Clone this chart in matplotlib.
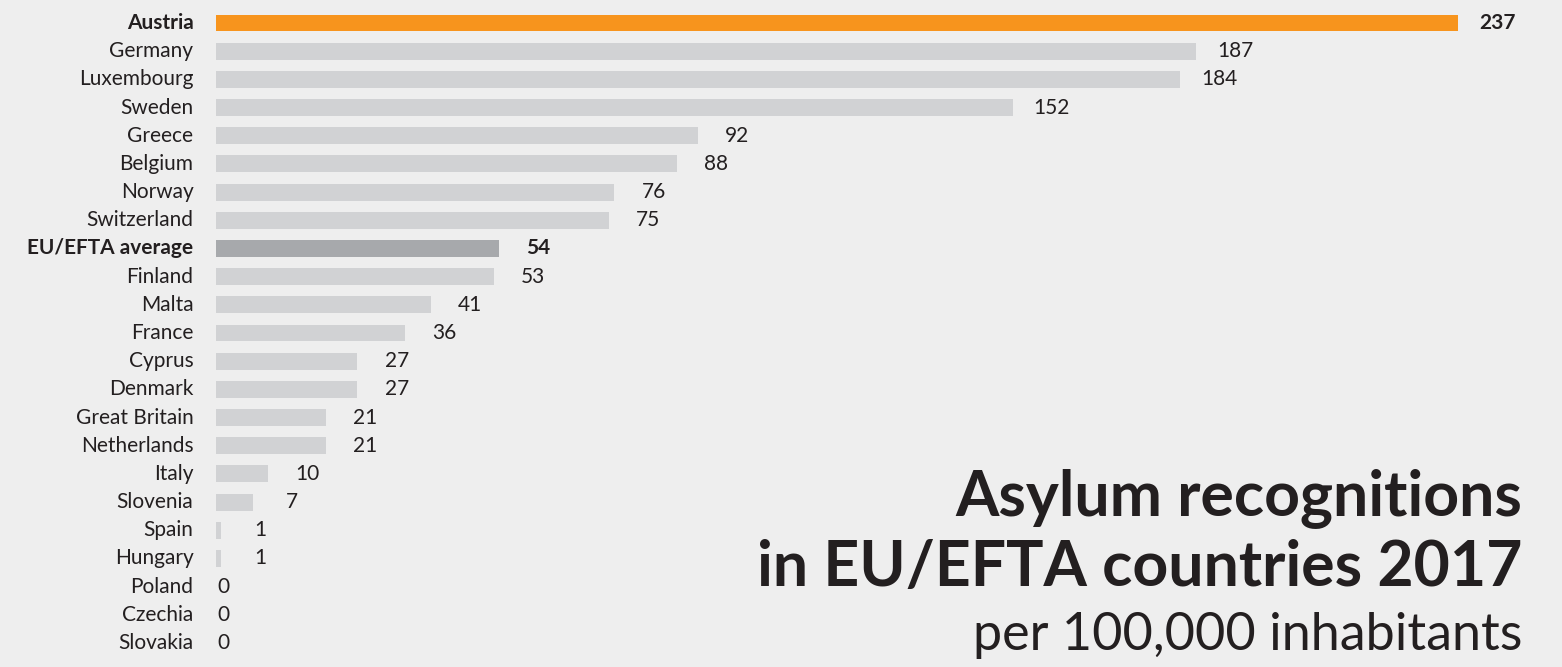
import matplotlib.pyplot as plt

countries = ["Austria", "Germany", "Luxembourg", "Sweden", "Greece", "Belgium",
             "Norway", "Switzerland", "EU/EFTA average", "Finland", "Malta", "France",
             "Cyprus", "Denmark", "Great Britain", "Netherlands", "Italy", "Slovenia",
             "Spain", "Hungary", "Poland", "Czechia", "Slovakia"]
values = [237, 187, 184, 152, 92, 88, 76, 75, 54, 53, 41, 36, 27, 27, 21, 21,
          10, 7, 1, 1, 0, 0, 0]

bg = "#EEEEEE"
txt = "#231F20"
orange = "#F7941D"
light = "#D1D2D4"
avg = "#A7A9AC"

plt.rcParams['font.family'] = ['Lato', 'DejaVu Sans']

fig = plt.figure(figsize=(15.62, 6.67), dpi=100, facecolor=bg)
n = len(countries)
H = 667.0
top_px, step = 23.0, (643.0 - 23.0) / (n - 1)
# axes spans rows -0.5 .. n-0.5
ax_top = top_px - step / 2
ax_bot = ax_top + step * n
ax = fig.add_axes([216 / 1562, 1 - ax_bot / H, (1458 - 216) / 1562, (ax_bot - ax_top) / H])
ax.set_facecolor(bg)

colors = []
for c in countries:
    if c == "Austria":
        colors.append(orange)
    elif c == "EU/EFTA average":
        colors.append(avg)
    else:
        colors.append(light)

ypos = list(range(n))
ax.barh(ypos, values, height=0.6, color=colors, left=0)
ax.set_xlim(0, 237)
ax.set_ylim(n - 0.5, -0.5)
ax.axis("off")

for y, c, v in zip(ypos, countries, values):
    bold = c in ("Austria", "EU/EFTA average")
    w = "bold" if bold else "normal"
    ax.text(-4.3, y, c, ha="right", va="center", fontsize=15, color=txt,
            fontweight=w)
    if v == 0:
        ax.text(0.2, y, str(v), ha="left", va="center", fontsize=15, color=txt)
    else:
        ax.text(v + 7.5, y, str(v), ha="center", va="center", fontsize=15,
                color=txt, fontweight=w)

fig.text(1522 / 1562, 1 - 515 / H, "Asylum recognitions", ha="right",
         va="baseline", fontsize=45, fontweight="bold", color=txt)
fig.text(1522 / 1562, 1 - 586 / H, "in EU/EFTA countries 2017", ha="right",
         va="baseline", fontsize=45, fontweight="bold", color=txt)
fig.text(1522 / 1562, 1 - 650 / H, "per 100,000 inhabitants", ha="right",
         va="baseline", fontsize=37.5, fontweight="normal", color=txt)

fig.savefig("out.png", dpi=100, facecolor=bg)
